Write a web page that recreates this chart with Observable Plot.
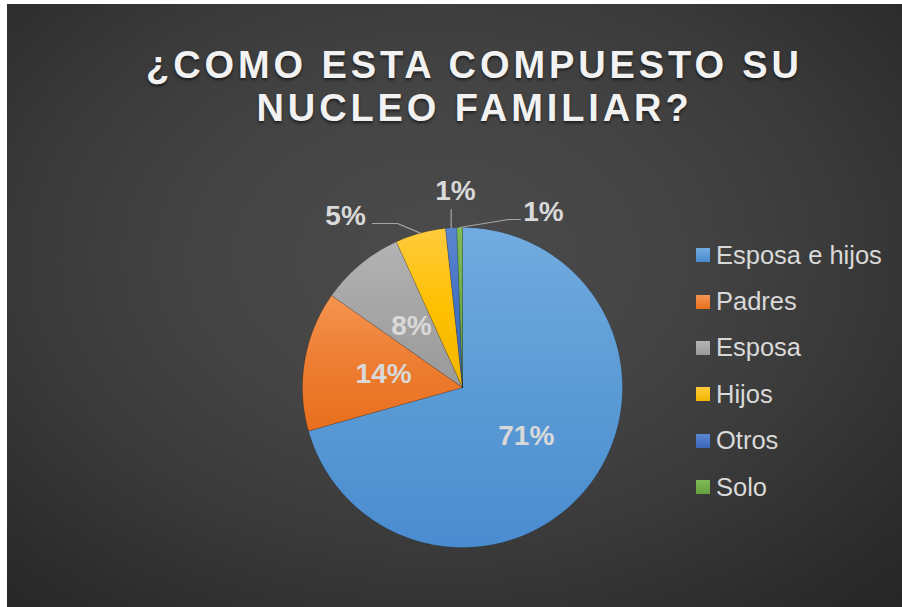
<!DOCTYPE html>
<html>
<head>
<meta charset="utf-8">
<script src="https://cdn.jsdelivr.net/npm/d3@7"></script>
<script src="https://cdn.jsdelivr.net/npm/@observablehq/plot@0.6"></script>
<style>
  html, body { margin: 0; padding: 0; background: #ffffff; }
  #page { position: relative; width: 902px; height: 607px; overflow: hidden; background: #fff; }
  #chart {
    position: absolute; left: 7px; top: 4px; width: 895px; height: 603px;
    background: radial-gradient(ellipse 75% 80% at 48% 42%, #4b4b4b 0%, #444444 35%, #3a3a3a 60%, #2a2a2a 90%, #262626 100%);
    font-family: "Liberation Sans", Arial, sans-serif;
  }
  #title {
    position: absolute; left: 40px; top: 40px; width: 855px; text-align: center;
    color: #f2f2f2; font-weight: bold; font-size: 38px; line-height: 43px;
    letter-spacing: 3.9px; text-shadow: 0 2px 3px rgba(0,0,0,0.55);
  }
  #plot { position: absolute; left: 0; top: 0; }
  #legend { position: absolute; left: 689px; top: 228px; }
  .item { display: flex; align-items: center; height: 46.4px; color: #d9d9d9; font-size: 25.5px; }
  .sw { width: 14px; height: 14px; margin-right: 6px; }
</style>
</head>
<body>
<div id="page">
  <div id="chart">
    <div id="plot"></div>
    <div id="title">¿COMO ESTA COMPUESTO SU<br>NUCLEO FAMILIAR?</div>
    <div id="legend"></div>
  </div>
</div>
<script>
// ---- data ----
const categorias = ["Esposa e hijos", "Padres", "Esposa", "Hijos", "Otros", "Solo"];
const valores = [125, 25, 15, 9, 2, 1];
const coloresBase = ["#5b9bd5", "#ed7d31", "#a5a5a5", "#ffc000", "#4472c4", "#70ad47"];
const coloresClaros = ["#72abe0", "#f59450", "#b3b3b3", "#ffcb3d", "#5a86d0", "#80bb58"];
const coloresOscuros = ["#4a8cd0", "#e86f1d", "#9a9a9a", "#f2b600", "#3a66b8", "#62a03c"];

// ---- layout ----
const W = 895, H = 603, cx = 455, cy = 383, R = 160;
// outside labels (unit coords): text position, leader start, elbow
const etiquetasExternas = {
  3: { t: [-0.731, -1.069], ini: [-0.5625, -1.025], codo: [-0.406, -1.025] },
  4: { t: [-0.044, -1.225], ini: [-0.07, -1.1125], codo: null },
  5: { t: [0.506, -1.094], ini: [0.3625, -1.05], codo: [0.2875, -1.05] }
};

const total = d3.sum(valores);
const arcos = d3.pie().sort(null).value(d => d)(valores);

function pt(a, r) { return { x: r * Math.sin(a), y: -r * Math.cos(a) }; }

const marks = [];
arcos.forEach((a, i) => {
  const pts = [{ x: 0, y: 0 }];
  const n = Math.max(2, Math.ceil((a.endAngle - a.startAngle) / (Math.PI / 360)));
  for (let k = 0; k <= n; k++) {
    pts.push(pt(a.startAngle + (a.endAngle - a.startAngle) * k / n, 1));
  }
  pts.push({ x: 0, y: 0 });
  marks.push(Plot.line(pts, { x: "x", y: "y", fill: `url(#g${i})`, stroke: "rgba(0,0,0,0.28)", strokeWidth: 0.6, curve: "linear" }));
});

// labels
const etiquetas = arcos.map((a, i) => {
  const mid = (a.startAngle + a.endAngle) / 2;
  const ext = etiquetasExternas[i];
  const p = ext ? { x: ext.t[0], y: ext.t[1] } : pt(mid, 0.5);
  return { ...p, text: Math.round(valores[i] / total * 100) + "%" };
});

// leaders
const lideres = [];
arcos.forEach((a, i) => {
  const ext = etiquetasExternas[i];
  if (!ext) return;
  const mid = (a.startAngle + a.endAngle) / 2;
  const fin = pt(mid, 1);
  lideres.push({ x: ext.ini[0], y: ext.ini[1], z: i });
  if (ext.codo) lideres.push({ x: ext.codo[0], y: ext.codo[1], z: i });
  else lideres.push({ x: fin.x, y: ext.ini[1], z: i });
  lideres.push({ x: fin.x, y: fin.y, z: i });
});
marks.push(Plot.line(lideres, { x: "x", y: "y", z: "z", stroke: "#a6a6a6", strokeWidth: 1.2 }));
marks.push(Plot.text(etiquetas, {
  x: "x", y: "y", text: "text", fill: "#d9d9d9", fontSize: 28, fontWeight: "bold",
  fontFamily: "Liberation Sans, Arial, sans-serif"
}));

const svg = Plot.plot({
  width: W, height: H, margin: 0,
  x: { domain: [-1, 1], range: [cx - R, cx + R], axis: null },
  y: { domain: [-1, 1], range: [cy - R, cy + R], axis: null },
  style: { background: "transparent", overflow: "visible" },
  marks
});

// gradients for slices
let defs = "<defs>";
coloresBase.forEach((c, i) => {
  defs += `<linearGradient id="g${i}" x1="0" y1="0" x2="0" y2="1">
    <stop offset="0" stop-color="${coloresClaros[i]}"/>
    <stop offset="0.5" stop-color="${c}"/>
    <stop offset="1" stop-color="${coloresOscuros[i]}"/></linearGradient>`;
});
defs += "</defs>";
svg.insertAdjacentHTML("afterbegin", defs);
document.getElementById("plot").appendChild(svg);

// legend
const leg = d3.select("#legend");
categorias.forEach((c, i) => {
  const it = leg.append("div").attr("class", "item");
  it.append("div").attr("class", "sw")
    .style("background", `linear-gradient(${coloresClaros[i]}, ${coloresOscuros[i]})`);
  it.append("span").text(c);
});
</script>
</body>
</html>
